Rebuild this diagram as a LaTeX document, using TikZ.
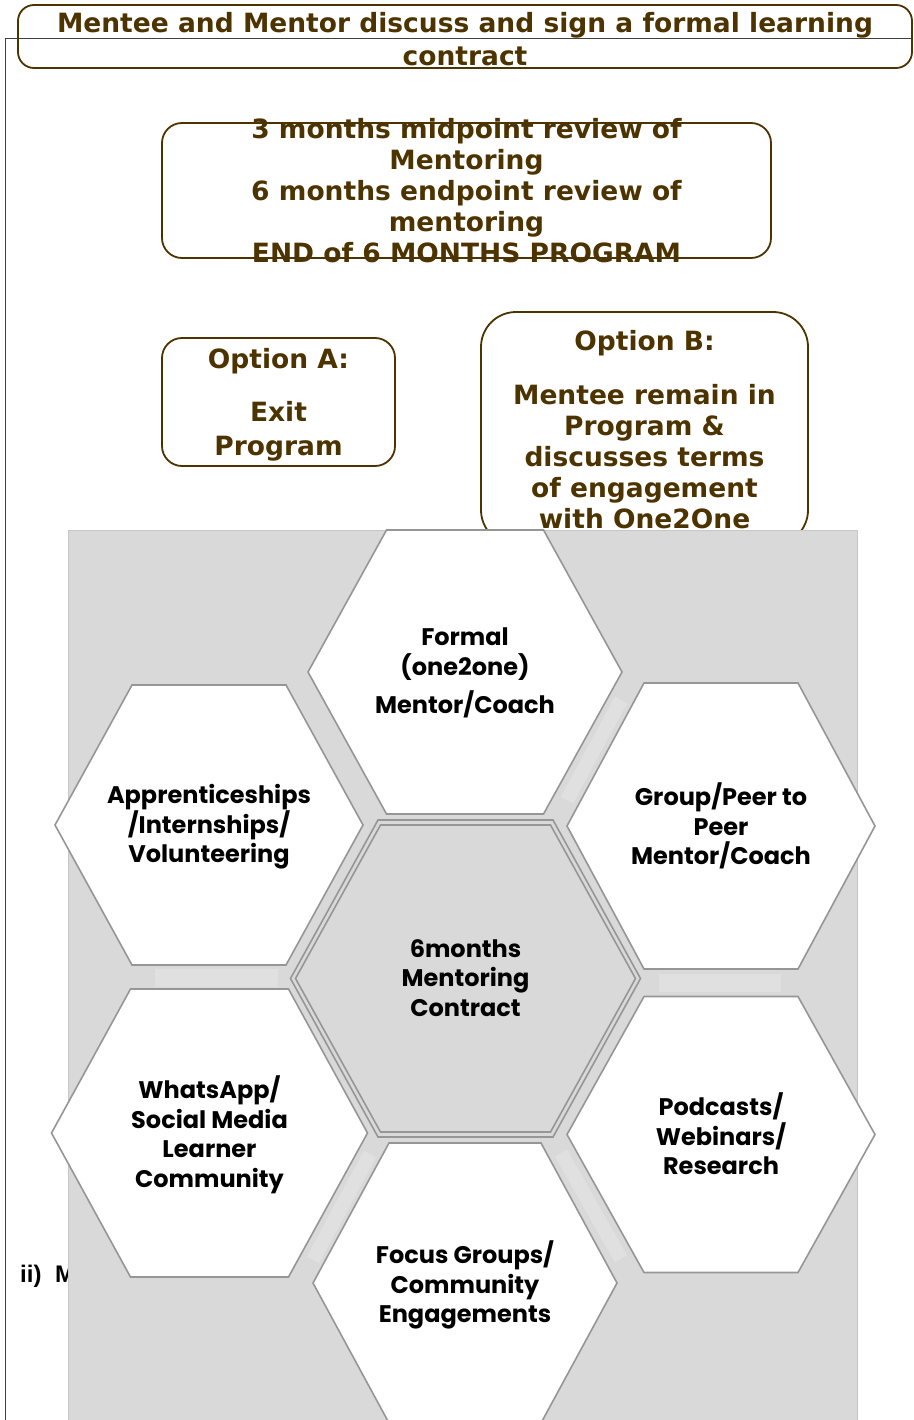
\documentclass[tikz,border=0pt]{standalone}
\usepackage{fontspec}
\setmainfont{DejaVu Sans}
\newfontfamily\hexfont{Poppins}
\newfontfamily\notefont{Liberation Sans}
\usetikzlibrary{positioning}
\definecolor{bark}{RGB}{77,51,0}
\definecolor{panel}{RGB}{217,217,217}
\definecolor{glow}{RGB}{224,224,224}
\definecolor{rim}{RGB}{150,150,150}

\begin{document}
\begin{tikzpicture}[x=1pt, y=-1pt,
roundbox/.style={draw=bark, line width=1.8pt, inner sep=0pt},
box text/.style={text=bark, font=\fontsize{26.5}{31}\selectfont\bfseries, align=center, inner sep=0pt},
hex text/.style={font=\hexfont\fontsize{24}{29.5}\selectfont\bfseries, align=center, inner sep=0pt},
hex rim/.style={draw=rim, line width=1.6pt},
gap band/.style={draw=glow, line width=14pt}]
\useasboundingbox (0,0) rectangle (913,1420);

% page rules
\coordinate (rule-left) at (5,38);
\coordinate (rule-right) at (913,38);
\coordinate (rule-foot) at (5,1420);
\draw[black!75, line width=0.9pt] (rule-right) -- (rule-left) -- (rule-foot);

% boxes
\path
(465,36.5) node[roundbox, rounded corners=16pt, minimum width=894pt, minimum height=63pt] (sign-box) {}
(466.5,190.5) node[roundbox, rounded corners=20pt, minimum width=609pt, minimum height=135pt] (review-box) {}
(278.5,402) node[roundbox, rounded corners=20pt, minimum width=233pt, minimum height=128pt] (exit-box) {}
(644.5,428.5) node[roundbox, rounded corners=35pt, minimum width=327pt, minimum height=233pt] (stay-box) {}
;

\node[box text, font=\fontsize{26.5}{33}\selectfont\bfseries] (sign) at (465,39) {Mentee and Mentor discuss and sign a formal learning\\contract};
\node[box text] (review) at (review-box.center) {3 months midpoint review of\\Mentoring\\6 months endpoint review of\\mentoring\\END of 6 MONTHS PROGRAM};
\node[box text, font=\fontsize{26.5}{34}\selectfont\bfseries] (exit) at (278.5,405) {Option A:\\[19pt]Exit\\Program};
\node[box text] (stay) at (644.5,430) {Option B:\\[23pt]Mentee remain in\\Program \&\\discusses terms\\of engagement\\with One2One};

\node[anchor=base west, inner sep=0pt, font=\notefont\bfseries\fontsize{24}{28}\selectfont] (ii-note) at (20,1282) {ii)\hspace{13.5pt}M};

% grey panel with light gaps
\path[fill=panel, draw=black!22, line width=0.8pt] (68,530) rectangle (857,1420);
\draw[gap band, line width=18pt] (155,977.5) -- (278,977.5);
\draw[gap band, line width=18pt] (659,983) -- (781,983);
\draw[gap band] (621,700) -- (567,800);
\draw[gap band] (370,1154) -- (313,1260);
\draw[gap band] (561,1153) -- (621,1259);

% centre cell, double rim
\foreach \rx/\ry in {175/158.5, 170/153.5}
\draw[hex rim, fill=panel] (465.5+\rx,978.5) -- (465.5+\rx/2,978.5-\ry) -- (465.5-\rx/2,978.5-\ry)
  -- (465.5-\rx,978.5) -- (465.5-\rx/2,978.5+\ry) -- (465.5+\rx/2,978.5+\ry) -- cycle;

% outer cells
\foreach \cx/\cy/\rx/\ry in {465/672/157/142, 209/825/154/140, 721/826/154/143,
  209.5/1133/158/144, 721/1134.5/154/138, 465/1283/152/140}
\draw[hex rim, fill=white] (\cx+\rx,\cy) -- (\cx+\rx/2,\cy-\ry) -- (\cx-\rx/2,\cy-\ry)
  -- (\cx-\rx,\cy) -- (\cx-\rx/2,\cy+\ry) -- (\cx+\rx/2,\cy+\ry) -- cycle;

\node[hex text] (formal) at (465,673) {Formal\\(one2one)\\[9pt]Mentor/Coach};
\node[hex text] (apprentice) at (209,827) {Apprenticeships\\/Internships/\\Volunteering};
\node[hex text] (peer) at (721,826) {Group/Peer to\\Peer\\Mentor/Coach};
\node[hex text] (contract) at (465.5,978) {6months\\Mentoring\\Contract};
\node[hex text] (whatsapp) at (209.5,1135) {WhatsApp/\\Social Media\\Learner\\Community};
\node[hex text] (podcasts) at (721,1134) {Podcasts/\\Webinars/\\Research};
\node[hex text] (focus) at (465,1285) {Focus Groups/\\Community\\Engagements};

\end{tikzpicture}
\end{document}
